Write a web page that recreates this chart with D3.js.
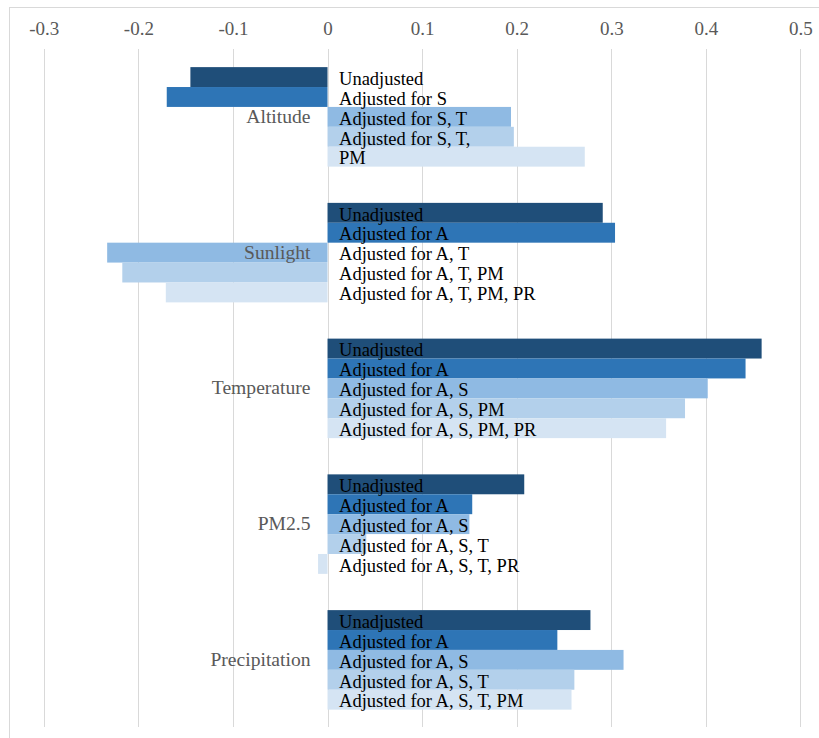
<!DOCTYPE html>
<html>
<head>
<meta charset="utf-8">
<script src="https://cdn.jsdelivr.net/npm/d3@7"></script>
<style>
  html, body { margin: 0; padding: 0; background: #ffffff; }
  svg { display: block; }
</style>
</head>
<body>
<svg id="chart" width="819" height="738"></svg>
<script>
const categories = ["Altitude", "Sunlight", "Temperature", "PM2.5", "Precipitation"];
const seriesKeys = ["s1", "s2", "s3", "s4", "s5"];
const altitudeValues = [-0.145, -0.170, 0.194, 0.197, 0.272];
const sunlightValues = [0.291, 0.304, -0.233, -0.217, -0.171];
const temperatureValues = [0.459, 0.442, 0.402, 0.378, 0.358];
const pm25Values = [0.208, 0.153, 0.150, 0.041, -0.010];
const precipitationValues = [0.278, 0.243, 0.313, 0.261, 0.258];
const altitudeLabels = ["Unadjusted", "Adjusted for S", "Adjusted for S, T", "Adjusted for S, T,", "PM"];
const sunlightLabels = ["Unadjusted", "Adjusted for A", "Adjusted for A, T", "Adjusted for A, T, PM", "Adjusted for A, T, PM, PR"];
const temperatureLabels = ["Unadjusted", "Adjusted for A", "Adjusted for A, S", "Adjusted for A, S, PM", "Adjusted for A, S, PM, PR"];
const pm25Labels = ["Unadjusted", "Adjusted for A", "Adjusted for A, S", "Adjusted for A, S, T", "Adjusted for A, S, T, PR"];
const precipitationLabels = ["Unadjusted", "Adjusted for A", "Adjusted for A, S", "Adjusted for A, S, T", "Adjusted for A, S, T, PM"];
const tickValues = [-0.3, -0.2, -0.1, 0, 0.1, 0.2, 0.3, 0.4, 0.5];
const tickLabels = ["-0.3", "-0.2", "-0.1", "0", "0.1", "0.2", "0.3", "0.4", "0.5"];
const colors = ["#1f4e79", "#2e75b6", "#8fbae3", "#b3d0eb", "#d5e4f3"];

const valueTable = [altitudeValues, sunlightValues, temperatureValues, pm25Values, precipitationValues];
const labelTable = [altitudeLabels, sunlightLabels, temperatureLabels, pm25Labels, precipitationLabels];
const data = categories.map((c, i) => ({
  category: c,
  bars: seriesKeys.map((k, j) => ({ key: k, value: valueTable[i][j], label: labelTable[i][j], color: colors[j] }))
}));

const svg = d3.select("#chart");
const font = "'Liberation Serif', 'Times New Roman', serif";

// outer frame
svg.append("rect")
  .attr("x", 9.5).attr("y", 7.5)
  .attr("width", 830).attr("height", 750)
  .attr("fill", "none").attr("stroke", "#d9d9d9").attr("stroke-width", 1);

const x = d3.scaleLinear().domain([-0.3, 0.5]).range([43.8, 800.4]);
const y = d3.scaleBand().domain(categories).range([49, 727.75]).paddingInner(0.267).paddingOuter(0.1335);
const ySub = d3.scaleBand().domain(seriesKeys).range([0, y.bandwidth()]);

// gridlines
svg.append("g").selectAll("line").data(tickValues).join("line")
  .attr("x1", d => Math.round(x(d)) + 0.5).attr("x2", d => Math.round(x(d)) + 0.5)
  .attr("y1", 49).attr("y2", 727)
  .attr("stroke", "#d9d9d9").attr("stroke-width", 1);

// top axis labels
const axis = d3.axisTop(x).tickValues(tickValues).tickSize(0).tickFormat((d, i) => tickLabels[i]);
const axG = svg.append("g").attr("transform", "translate(0,35)").call(axis);
axG.select(".domain").remove();
axG.selectAll("text")
  .attr("y", 0).attr("dy", 0)
  .attr("font-family", font).attr("font-size", 19).attr("fill", "#595959");

// bars
const groups = svg.append("g").selectAll("g").data(data).join("g")
  .attr("transform", d => `translate(0,${y(d.category)})`);

groups.selectAll("rect").data(d => d.bars).join("rect")
  .attr("x", d => x(Math.min(0, d.value)))
  .attr("width", d => Math.abs(x(d.value) - x(0)))
  .attr("y", d => ySub(d.key))
  .attr("height", ySub.bandwidth())
  .attr("fill", d => d.color);

// bar labels
groups.selectAll("text.bl").data(d => d.bars).join("text")
  .attr("class", "bl")
  .attr("x", x(0) + 11.5)
  .attr("y", d => ySub(d.key) + ySub.bandwidth() - 2.2)
  .attr("font-family", font).attr("font-size", 18.5).attr("fill", "#000000")
  .text(d => d.label);

// category labels
groups.append("text")
  .attr("x", x(0) - 17)
  .attr("y", y.bandwidth() / 2 + 6)
  .attr("text-anchor", "end")
  .attr("font-family", font).attr("font-size", 19.6).attr("fill", "#595959")
  .text(d => d.category);
</script>
</body>
</html>
